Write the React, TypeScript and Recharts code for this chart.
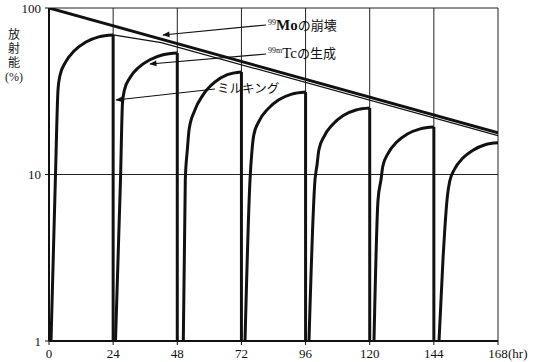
import { CartesianGrid, Line, LineChart, XAxis, YAxis } from 'recharts'

// time axis (hr) and activity axis (%)
const xTicks = [0, 24, 48, 72, 96, 120, 144, 168]
const yTicks = [1, 10, 100]

// 99Mo parent decay (thick straight line on the log scale)
const moDecay = [
  { t: 0, v: 100 },
  { t: 168, v: 17.8 },
]

// 99mTc in equilibrium with the parent (thin line under the Mo line)
const tcEquilibrium = [
  { t: 24, v: 69 },
  { t: 42, v: 62 },
  { t: 168, v: 17.1 },
]

// 99mTc ingrowth after each milking
const milk1 = [
  { t: 0.75, v: 1 },
  { t: 2.43, v: 10 },
  { t: 3.37, v: 32.2 },
  { t: 4.08, v: 39.2 },
  { t: 6.14, v: 47.1 },
  { t: 9.39, v: 55.1 },
  { t: 13.66, v: 62.2 },
  { t: 18.63, v: 67.1 },
  { t: 24, v: 68.8 },
]
const milk2 = [
  { t: 24.88, v: 1 },
  { t: 26.75, v: 9.3 },
  { t: 27.5, v: 26.9 },
  { t: 28.21, v: 32.1 },
  { t: 30.23, v: 38 },
  { t: 33.53, v: 43.9 },
  { t: 37.75, v: 48.9 },
  { t: 42.69, v: 52.4 },
  { t: 48, v: 53.7 },
]
const milk3 = [
  { t: 50.25, v: 1 },
  { t: 51, v: 9.3 },
  { t: 51.75, v: 14 },
  { t: 52.42, v: 18.6 },
  { t: 54.44, v: 24.1 },
  { t: 57.66, v: 30.1 },
  { t: 61.89, v: 35.7 },
  { t: 66.75, v: 39.8 },
  { t: 72, v: 41.3 },
]
const milk4 = [
  { t: 73.34, v: 1 },
  { t: 75.21, v: 9.3 },
  { t: 75.96, v: 14 },
  { t: 76.63, v: 17.3 },
  { t: 78.65, v: 21 },
  { t: 81.83, v: 24.7 },
  { t: 85.98, v: 28.1 },
  { t: 90.81, v: 30.4 },
  { t: 96, v: 31.3 },
]
const milk5 = [
  { t: 97.28, v: 1 },
  { t: 99.53, v: 9.3 },
  { t: 100.28, v: 11.4 },
  { t: 100.95, v: 14 },
  { t: 102.9, v: 16.9 },
  { t: 106.04, v: 19.9 },
  { t: 110.1, v: 22.6 },
  { t: 114.85, v: 24.4 },
  { t: 120, v: 25.1 },
]
const milk6 = [
  { t: 121.6, v: 1 },
  { t: 123.1, v: 7 },
  { t: 124.22, v: 9.3 },
  { t: 124.9, v: 11.2 },
  { t: 126.88, v: 13.4 },
  { t: 130.02, v: 15.6 },
  { t: 134.1, v: 17.5 },
  { t: 138.89, v: 18.8 },
  { t: 144, v: 19.3 },
]
const milk7 = [
  { t: 145.93, v: 1 },
  { t: 147.42, v: 3.1 },
  { t: 149.1, v: 7.5 },
  { t: 149.93, v: 9.1 },
  { t: 151.8, v: 10.8 },
  { t: 154.76, v: 12.5 },
  { t: 158.65, v: 14 },
  { t: 163.18, v: 15.1 },
  { t: 168, v: 15.5 },
]

const cycles = [milk1, milk2, milk3, milk4, milk5, milk6, milk7]

// vertical drop at every milking (peak of the cycle down to the axis)
const drops = cycles.slice(0, 6).map((c) => {
  const peak = c[c.length - 1]
  return [
    { t: peak.t, v: peak.v },
    { t: peak.t, v: 1 },
  ]
})

const serif = "'Liberation Serif', 'DejaVu Serif', 'Noto Sans CJK JP', serif"
const jp = "'Noto Sans CJK JP', sans-serif"

function XTick({ x, y, payload }: any) {
  return (
    <g>
      <text x={x} y={y + 11} textAnchor="middle" fontSize={13} fontFamily={serif} fill="#111">
        {payload.value}
      </text>
      {payload.value === 168 && (
        <text x={x + 10} y={y + 11} fontSize={13} fontFamily={serif} fill="#111">
          (hr)
        </text>
      )}
    </g>
  )
}

function Notes() {
  return (
    <svg
      width={536}
      height={362}
      style={{ position: 'absolute', left: 0, top: 0, pointerEvents: 'none' }}
    >
      <defs>
        <marker id="arw" viewBox="0 0 10 10" refX="9" refY="5" markerWidth="9" markerHeight="6" orient="auto">
          <path d="M0,1 L10,5 L0,9 Z" fill="#111" />
        </marker>
      </defs>
      {/* vertical axis title */}
      <text
        x={14}
        y={28}
        fontSize={12}
        fontFamily={jp}
        fill="#222"
        letterSpacing={2}
        style={{ writingMode: 'vertical-rl' }}
      >
        放射能
      </text>
      <text x={14} y={81} textAnchor="middle" fontSize={12} fontFamily={serif} fill="#222">(%)</text>

      <line x1={266} y1={25} x2={163} y2={35} stroke="#111" strokeWidth={1.2} markerEnd="url(#arw)" />
      <text x={268} y={30} fontFamily={serif} fill="#111">
        <tspan fontSize={8} dy={-5}>99</tspan>
        <tspan fontSize={15} fontWeight="bold" dy={5}>Mo</tspan>
        <tspan fontSize={13} fontFamily={jp}>の崩壊</tspan>
      </text>

      <line x1={266} y1={54} x2={150} y2={64} stroke="#111" strokeWidth={1.2} markerEnd="url(#arw)" />
      <text x={268} y={58} fontFamily={serif} fill="#111">
        <tspan fontSize={8} dy={-5}>99m</tspan>
        <tspan fontSize={15} dy={5}>Tc</tspan>
        <tspan fontSize={13} fontFamily={jp}>の生成</tspan>
      </text>

      <line x1={215} y1={89} x2={116} y2={100} stroke="#111" strokeWidth={1.2} markerEnd="url(#arw)" />
      <text x={217} y={93} fontSize={12.5} fontFamily={jp} fill="#111">ミルキング</text>
    </svg>
  )
}

export default function App() {
  return (
    <div style={{ position: 'absolute', left: 0, top: 0, width: 536, height: 362, background: '#fff' }}>
      <LineChart width={536} height={362} margin={{ top: 8, right: 38, bottom: 0, left: 0 }}>
        <CartesianGrid stroke="#222" strokeWidth={1} />
        <XAxis
          type="number"
          dataKey="t"
          domain={[0, 168]}
          ticks={xTicks}
          height={21}
          axisLine={{ stroke: '#111', strokeWidth: 2 }}
          tickLine={{ stroke: '#111' }}
          tickSize={4}
          tick={<XTick />}
          allowDataOverflow
        />
        <YAxis
          type="number"
          scale="log"
          domain={[1, 100]}
          ticks={yTicks}
          width={49}
          allowDataOverflow
          axisLine={{ stroke: '#111', strokeWidth: 2 }}
          tickLine={{ stroke: '#111' }}
          tickSize={4}
          tickMargin={4}
          tick={{ fontSize: 13, fontFamily: serif, fill: '#111' }}
        />
        <Line data={moDecay} dataKey="v" type="linear" stroke="#111" strokeWidth={3} dot={false} activeDot={false} isAnimationActive={false} />
        <Line data={tcEquilibrium} dataKey="v" type="linear" stroke="#111" strokeWidth={1.2} dot={false} activeDot={false} isAnimationActive={false} />
        {cycles.map((c, i) => (
          <Line key={'c' + i} data={c} dataKey="v" type="monotone" stroke="#111" strokeWidth={3} dot={false} activeDot={false} isAnimationActive={false} />
        ))}
        {drops.map((d, i) => (
          <Line key={'d' + i} data={d} dataKey="v" type="linear" stroke="#111" strokeWidth={3} dot={false} activeDot={false} isAnimationActive={false} />
        ))}
      </LineChart>
      <Notes />
    </div>
  )
}
